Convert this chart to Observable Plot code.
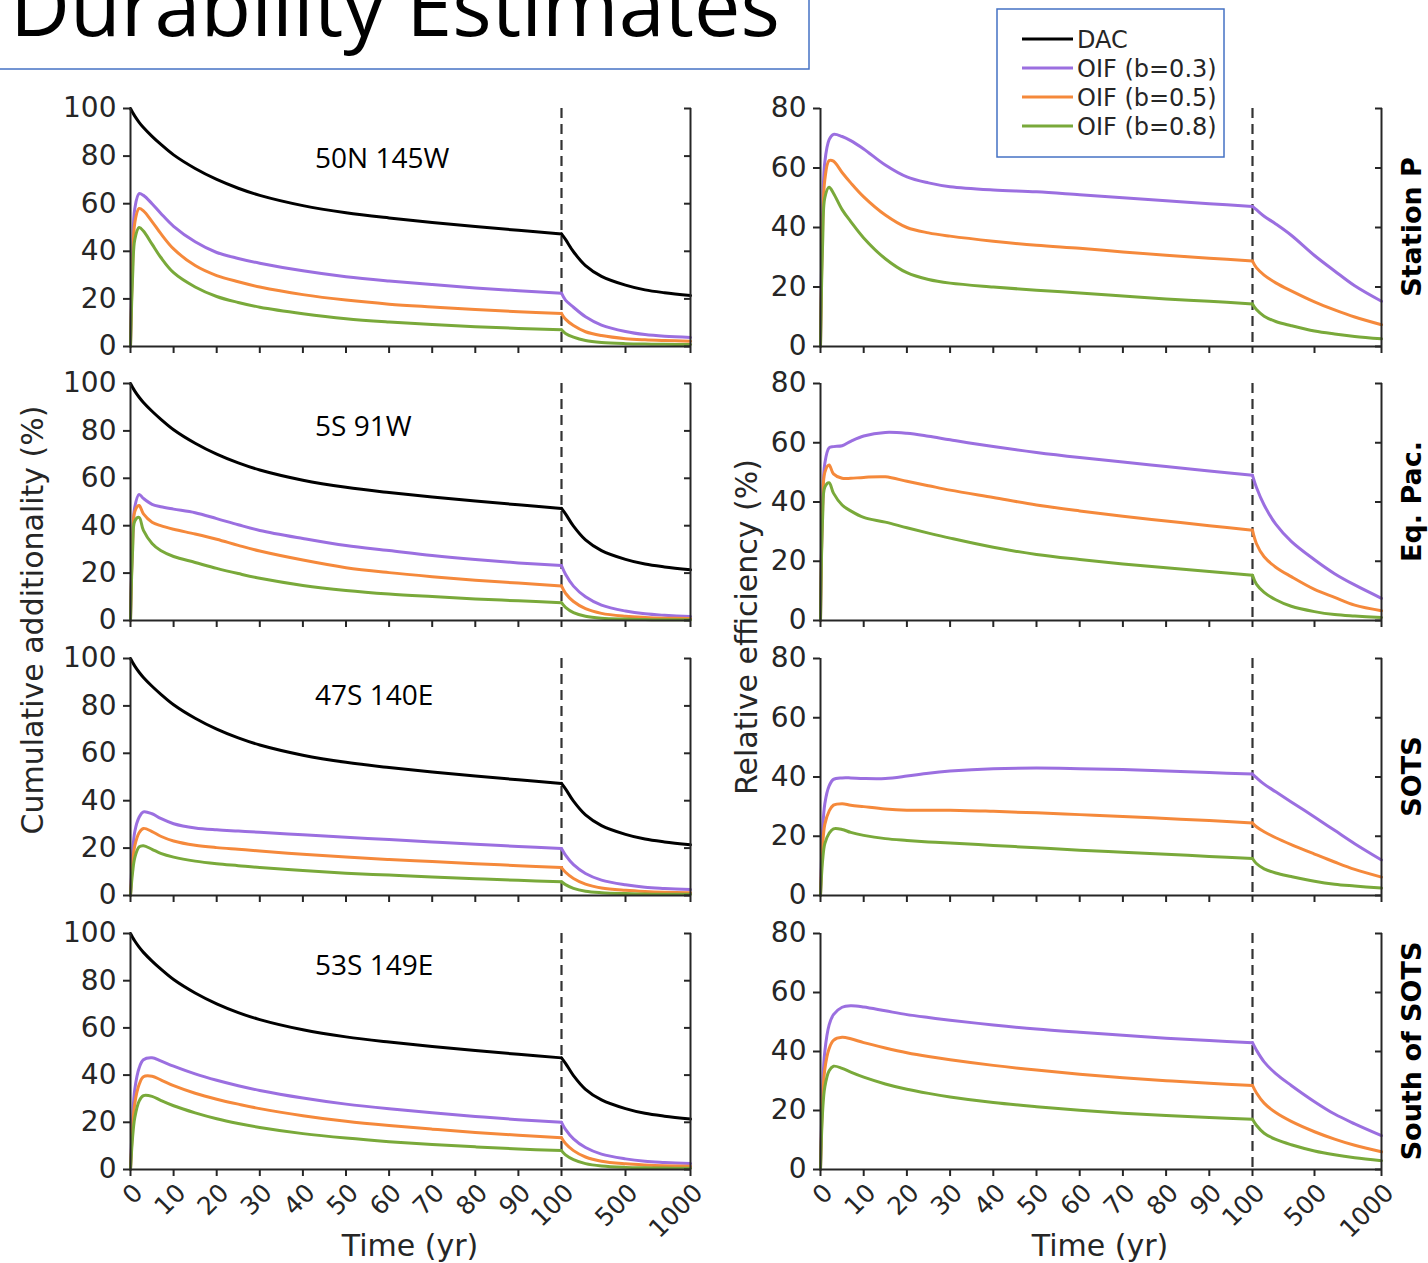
<!DOCTYPE html>
<html><head><meta charset="utf-8">
<script src="https://cdn.jsdelivr.net/npm/d3@7"></script>
<script src="https://cdn.jsdelivr.net/npm/@observablehq/plot@0.6"></script>
<style>
body{margin:0;background:#fff;}
#page{position:relative;width:1428px;height:1263px;overflow:hidden;background:#fff;}
#page svg{position:absolute;}
</style></head><body><div id="page"></div>
<script>
// ---------- data ----------
const time = [0,0.5,1,2,3,5,7,10,15,20,25,30,40,50,60,70,80,90,100,125,175,250,350,500,650,800,1000];
const timeTicks = [0,10,20,30,40,50,60,70,80,90,100,500,1000];
const addTicks = [0,20,40,60,80,100];
const effTicks = [0,20,40,60,80];
const seriesNames = ["DAC","OIF (b=0.3)","OIF (b=0.5)","OIF (b=0.8)"];
const seriesColors = ["#000000","#9b6fe0","#f5893b","#79a93a"];
const siteNames = ["Station P","Eq. Pac.","SOTS","South of SOTS"];
const siteCoords = ["50N 145W","5S 91W","47S 140E","53S 149E"];

const dacAdditionality = [100,98.3,96.8,94.2,92,88.3,85,80.5,74.8,70.2,66.5,63.5,59.2,56.2,54,52.1,50.4,48.8,47.3,45,39.8,34,29.5,25.8,23.8,22.6,21.4];

// cumulative additionality (%) for OIF b=0.3, 0.5, 0.8
const addStationP = [
  [0,40,58,64.2,63.5,60,56,50.5,44,39.5,37,35,31.8,29.3,27.5,26,24.6,23.4,22.4,19.5,16.5,12.5,9,6.3,5,4.3,3.8],
  [0,35,52,58,57,52.5,47.5,41,34,29.8,27.2,25,21.8,19.5,17.8,16.6,15.5,14.6,13.9,11.5,8.8,6.2,4.6,3.3,2.8,2.5,2.2],
  [0,30,45,50,48.5,43,37.5,31,25,21,18.5,16.5,13.8,11.7,10.3,9.2,8.3,7.6,7,5.5,3.9,2.5,1.7,1.2,1,0.9,0.8]
];
const addEqPac = [
  [0,35,48,53.2,51.5,49,48,47,45.5,43,40.4,38,34.6,31.6,29.5,27.4,25.7,24.3,23.2,19.5,14.5,10,6.5,4,2.8,2.2,1.7],
  [0,33,46,48.5,45,41.5,40,38.5,36.5,34.3,31.7,29.3,25.5,22.3,20.2,18.5,17,15.8,14.6,11.5,8,5,3,1.8,1.3,1,0.8],
  [0,30,42,43.5,38,32.5,29.5,27,24.5,22,19.8,17.8,14.8,12.7,11.2,10.1,9.1,8.3,7.5,5.5,3.3,1.8,1,0.6,0.4,0.3,0.3]
];
const addSOTS = [
  [0,18,27,33,35.3,34.5,32.5,30.3,28.5,27.7,27.2,26.7,25.6,24.6,23.6,22.6,21.6,20.7,19.8,17,13,9.3,6.5,4.5,3.5,3,2.5],
  [0,14,21,26.5,28.3,27,25,23,21.2,20.2,19.5,18.8,17.4,16.2,15.2,14.3,13.4,12.6,11.8,9.8,7.2,4.8,3.2,2.2,1.7,1.4,1.2],
  [0,10,16,20.5,21,19.5,17.8,16.2,14.5,13.4,12.6,11.8,10.5,9.4,8.6,7.8,7.1,6.4,5.8,4.6,3,1.8,1.2,0.8,0.6,0.5,0.5]
];
const addSouthSOTS = [
  [0,22,34,43,46.5,47.3,46,43.8,40.5,37.8,35.5,33.5,30.3,27.7,25.7,24,22.5,21.1,20,17,13,9.3,6.5,4.5,3.5,3,2.5],
  [0,18,28,36,39.3,39.5,38,35.5,32.3,29.8,27.7,25.8,22.8,20.4,18.6,17.1,15.7,14.5,13.5,11,8,5.3,3.5,2.4,1.9,1.6,1.4],
  [0,14,22,29,31.3,31,29.3,27,24,21.5,19.5,17.8,15.2,13.3,11.8,10.6,9.6,8.7,8,6.2,4.2,2.5,1.5,0.9,0.7,0.6,0.5]
];

// relative efficiency (%) for OIF b=0.3, 0.5, 0.8
const effStationP = [
  [0,45,62,69.5,71.3,70.6,69.2,66.4,61,57,55,53.7,52.6,52,51,50,49,48,47.1,46,43.8,41.2,37.4,30.6,25.4,20.4,15.2],
  [0,40,56,62.5,62.3,58.5,55,50.3,44.2,40,38.2,37.1,35.4,34,33,31.8,30.7,29.7,28.7,26.5,24,21.4,18.7,15,12.3,9.9,7.3],
  [0,35,50,53.5,51.5,46,42,36.5,29.5,24.8,22.5,21.3,20,18.9,18,17,16,15.2,14.3,12.4,10.2,8.4,7,5.2,4.2,3.4,2.6]
];
const effEqPac = [
  [0,40,53,58.3,58.7,59,60.5,62.3,63.5,63.2,62.2,61,58.7,56.7,55,53.5,52,50.5,49,45,39,32.5,26.7,20.5,15.8,12,7.5],
  [0,38,50,52.5,49.5,48,48,48.3,48.5,47,45.5,44,41.5,39,37,35.2,33.6,32,30.5,26,21.5,18,14.8,10.5,7.8,5.2,3.3],
  [0,35,45,46.5,43,39,37,34.8,33.2,31.3,29.5,27.8,24.7,22.3,20.6,19.1,17.8,16.5,15.3,12.3,9.5,7,4.8,3,2,1.5,1]
];
const effSOTS = [
  [0,22,31,37,39.2,39.7,39.7,39.5,39.5,40.3,41.3,42,42.8,43,42.8,42.5,42,41.5,41,39.8,37.6,35,31.6,26.5,22,17.5,12],
  [0,17,24,28.5,30.5,31,30.5,30,29.2,28.8,28.8,28.8,28.4,27.9,27.3,26.7,26,25.3,24.5,23.2,21.5,19.5,17.2,14,11.3,8.8,6.2],
  [0,12,17.5,21,22.5,22.3,21.3,20.3,19.2,18.6,18.1,17.7,16.9,16.1,15.3,14.6,13.9,13.2,12.5,10.8,9,7.6,6.4,4.8,3.8,3.2,2.5]
];
const effSouthSOTS = [
  [0,28,40,49,52.5,55,55.5,55.1,53.8,52.5,51.5,50.6,49,47.6,46.5,45.5,44.5,43.7,43,40.5,36.5,32.5,28.5,23,18.8,15.5,11.5],
  [0,24,34,41,43.8,44.8,44.3,43,41.2,39.6,38.3,37.2,35.3,33.7,32.3,31.1,30.1,29.2,28.5,26,22.5,19.3,16.3,12.8,10.3,8.2,6],
  [0,20,28,33.5,35,34.3,33,31.3,29,27.2,25.8,24.6,22.7,21.3,20.1,19.1,18.3,17.6,17,15,12.3,10.2,8.4,6.3,5,4,3]
];

const addBySite = [addStationP, addEqPac, addSOTS, addSouthSOTS];
const effBySite = [effStationP, effEqPac, effSOTS, effSouthSOTS];

// ---------- layout ----------
const W = 1428;
const rowTop = [108, 383, 658, 933];
const rowBottom = [346, 620, 895, 1169];
const colRange = [[130, 561, 625, 690], [820, 1252, 1314, 1381]];
const timeDomain = [0, 100, 500, 1000];
const page = document.getElementById("page");
const ink = "#262626";

function pushSeries(table, name, values) {
  // two pieces: the first century and the long tail, joined at t = 100
  time.forEach((t, i) => {
    if (t <= 100) table.push({t, v: values[i], series: name, piece: name + "|a"});
    if (t >= 100) table.push({t, v: values[i], series: name, piece: name + "|b"});
  });
}

function panel(col, row) {
  const padT = 20, padB = row === 3 ? 110 : 20;
  const h = rowBottom[row] - rowTop[row];
  const H = padT + h + padB;
  const rng = colRange[col];
  const table = [];
  if (col === 0) pushSeries(table, seriesNames[0], dacAdditionality);
  const src = col === 0 ? addBySite[row] : effBySite[row];
  src.forEach((arr, k) => pushSeries(table, seriesNames[k + 1], arr));
  const yTicks = col === 0 ? addTicks : effTicks;
  const yMax = col === 0 ? 100 : 80;
  const svg = Plot.plot({
    width: W, height: H,
    marginLeft: rng[0], marginRight: W - rng[3], marginTop: padT, marginBottom: padB,
    x: {type: "linear", domain: timeDomain, range: rng, axis: null},
    y: {domain: [0, yMax], range: [padT + h, padT], axis: null},
    color: {domain: seriesNames, range: seriesColors},
    style: {background: "transparent", fontFamily: "DejaVu Sans", color: ink, overflow: "visible"},
    marks: [
      Plot.ruleX([100], {stroke: "#333333", strokeWidth: 2.2, strokeDasharray: "10,6"}),
      Plot.line(table, {x: "t", y: "v", z: "piece", stroke: "series", strokeWidth: 3, curve: "catmull-rom"}),
      Plot.ruleX([0, 1000], {stroke: ink, strokeWidth: 2}),
      Plot.ruleY([0], {stroke: ink, strokeWidth: 2}),
      Plot.axisY({anchor: "left", ticks: yTicks, tickSize: 7, tickPadding: 7, fontSize: 28, strokeWidth: 2, label: null}),
      Plot.axisY({anchor: "right", ticks: yTicks, tickSize: 7, dx: -7, tickFormat: () => "", strokeWidth: 2, label: null}),
      Plot.axisX({anchor: "bottom", ticks: timeTicks, tickSize: 7, strokeWidth: 2, tickFormat: () => "", label: null}),
      ...(row === 3 ? [Plot.axisX({anchor: "bottom", ticks: timeTicks, tickSize: 0, tickPadding: 19, dx: 8, tickRotate: -45, fontSize: 25, tickFormat: d => String(d), label: null})] : [])
    ]
  });
  svg.style.left = "0px";
  svg.style.top = (rowTop[row] - padT) + "px";
  page.appendChild(svg);
}
for (let r = 0; r < 4; r++) { panel(0, r); panel(1, r); }

// ---------- text overlay ----------
const ov = d3.select(page).append("svg").attr("width", W).attr("height", 1263)
  .style("left", "0px").style("top", "0px");

// title box
ov.append("rect").attr("x", -5).attr("y", -20).attr("width", 814).attr("height", 89)
  .attr("fill", "none").attr("stroke", "#4472c4").attr("stroke-width", 1.5);
ov.append("text").attr("x", 10).attr("y", 36).attr("font-family", "Open Sans").attr("font-size", 82)
  .attr("textLength", 770).attr("lengthAdjust", "spacingAndGlyphs").attr("fill", "#000").text("Durability Estimates");

// site coordinates
const coordBase = [168, 436, 705, 975];
siteCoords.forEach((s, i) => ov.append("text").attr("x", 315).attr("y", coordBase[i])
  .attr("font-family", "Open Sans").attr("font-size", 28).attr("fill", "#000").text(s));

// row labels (right)
const rowCenter = rowTop.map((t, i) => (t + rowBottom[i]) / 2);
siteNames.forEach((s, i) => ov.append("text")
  .attr("transform", `translate(1421,${rowCenter[i]}) rotate(-90)`)
  .attr("text-anchor", "middle").attr("font-family", "DejaVu Sans").attr("font-weight", "bold")
  .attr("font-size", 27).attr("fill", "#000").text(s));

// axis titles
ov.append("text").attr("transform", "translate(43,620) rotate(-90)").attr("text-anchor", "middle")
  .attr("font-family", "DejaVu Sans").attr("font-size", 30).attr("fill", ink).text("Cumulative additionality (%)");
ov.append("text").attr("transform", "translate(757,627) rotate(-90)").attr("text-anchor", "middle")
  .attr("font-family", "DejaVu Sans").attr("font-size", 30).attr("fill", ink).text("Relative efficiency (%)");
ov.append("text").attr("x", 410).attr("y", 1256).attr("text-anchor", "middle")
  .attr("font-family", "DejaVu Sans").attr("font-size", 30).attr("fill", ink).text("Time (yr)");
ov.append("text").attr("x", 1100).attr("y", 1256).attr("text-anchor", "middle")
  .attr("font-family", "DejaVu Sans").attr("font-size", 30).attr("fill", ink).text("Time (yr)");

// legend
ov.append("rect").attr("x", 997).attr("y", 9).attr("width", 227).attr("height", 148)
  .attr("fill", "#fff").attr("stroke", "#4472c4").attr("stroke-width", 1.5);
seriesNames.forEach((s, i) => {
  const y = 39 + i * 29;
  ov.append("line").attr("x1", 1022).attr("x2", 1073).attr("y1", y).attr("y2", y)
    .attr("stroke", seriesColors[i]).attr("stroke-width", 3);
  ov.append("text").attr("x", 1077).attr("y", y).attr("dy", "0.36em")
    .attr("font-family", "DejaVu Sans").attr("font-size", 24).attr("fill", ink).text(s);
});
</script></body></html>
